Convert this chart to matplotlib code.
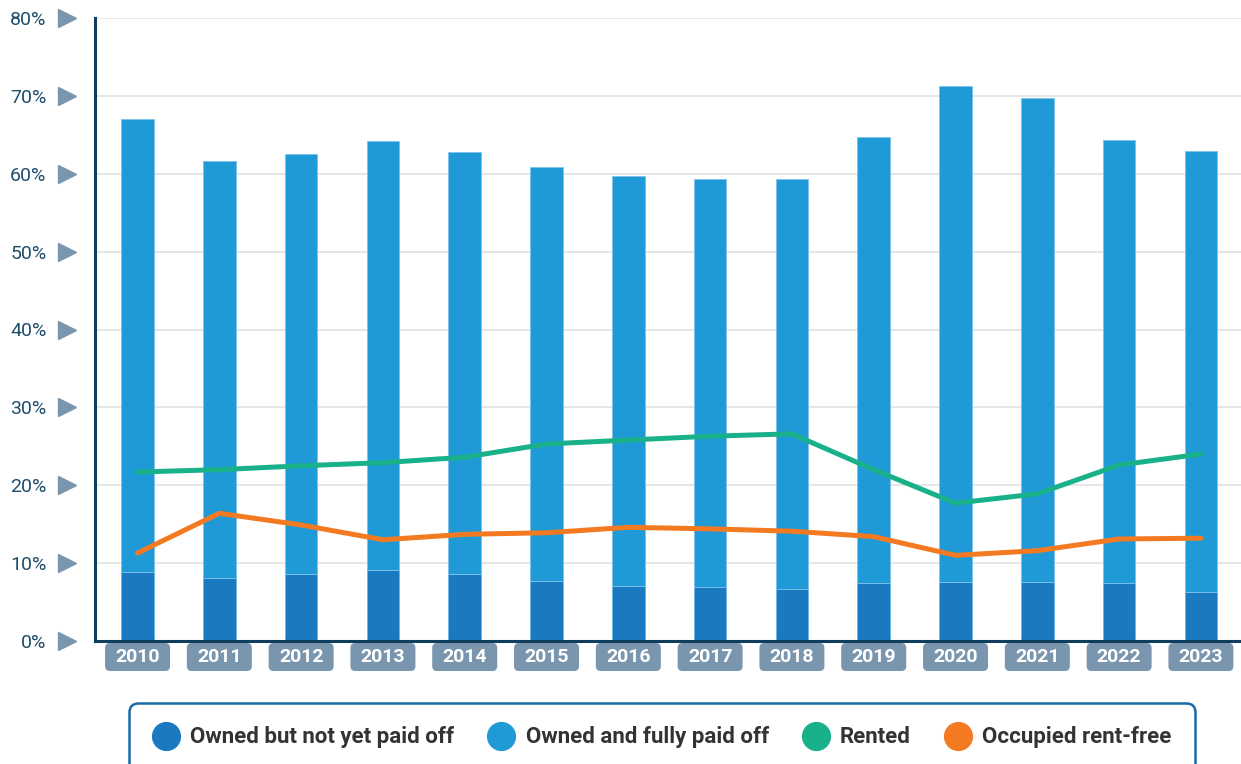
import matplotlib
matplotlib.use('Agg')
import matplotlib.pyplot as plt
import matplotlib.transforms as mtransforms
from matplotlib.patches import FancyBboxPatch
from matplotlib.lines import Line2D
import numpy as np

plt.rcParams['font.family'] = ['Roboto', 'DejaVu Sans']

years = ['2010', '2011', '2012', '2013', '2014', '2015', '2016',
         '2017', '2018', '2019', '2020', '2021', '2022', '2023']
owned_not_paid = [8.8, 8.1, 8.6, 9.1, 8.6, 7.7, 7.1, 6.9, 6.7, 7.4, 7.6, 7.6, 7.4, 6.3]
owned_paid = [58.2, 53.5, 53.9, 55.1, 54.2, 53.2, 52.6, 52.4, 52.6, 57.3, 63.7, 62.1, 56.9, 56.6]
rented = [21.7, 22.0, 22.5, 22.9, 23.6, 25.3, 25.8, 26.3, 26.6, 22.0, 17.7, 18.9, 22.6, 24.0]
rent_free = [11.3, 16.4, 14.9, 13.0, 13.7, 13.9, 14.6, 14.4, 14.1, 13.4, 11.0, 11.6, 13.1, 13.2]
y_ticks = [0, 10, 20, 30, 40, 50, 60, 70, 80]

c_dark = '#1a79c1'
c_light = '#1f9ad6'
c_green = '#19b18a'
c_orange = '#f47a22'
c_navy = '#0f3d5e'
c_box = '#7a96ae'

fig = plt.figure(figsize=(12.41, 7.64), dpi=100)
ax = fig.add_axes([95 / 1241, 123 / 764, 1146 / 1241, 623 / 764])

x = np.arange(len(years))
ax.bar(x, owned_not_paid, width=0.4, color=c_dark, edgecolor='#6fb6e6', linewidth=0.6, zorder=2)
ax.bar(x, owned_paid, width=0.4, bottom=owned_not_paid, color=c_light,
       edgecolor='#7cc3ea', linewidth=0.6, zorder=2)
ax.plot(x, rented, color=c_green, lw=3.6, solid_capstyle='round', zorder=3)
ax.plot(x, rent_free, color=c_orange, lw=3.6, solid_capstyle='round', zorder=3)

ax.set_xlim(-0.52, 13.49)
ax.set_ylim(0, 80)
ax.set_yticks(y_ticks)
ax.set_yticklabels([f'{v}%' for v in y_ticks], fontsize=14, color='#1f4e6b')
ax.tick_params(axis='y', length=0, pad=35)
ax.set_xticks([])
ax.grid(axis='y', color='#e2e2e2', lw=1.2, zorder=0)
ax.set_axisbelow(True)

for s in ['top', 'right']:
    ax.spines[s].set_visible(False)
for s in ['left', 'bottom']:
    ax.spines[s].set_color(c_navy)
    ax.spines[s].set_linewidth(2.2)
    ax.spines[s].set_zorder(4)

# triangle markers next to y tick labels
tr = mtransforms.blended_transform_factory(ax.transAxes, ax.transData)
ax.plot([-28 / 1146] * len(y_ticks), y_ticks, marker='>', ls='', ms=12.5,
        color=c_box, transform=tr, clip_on=False)

# year labels in rounded boxes
trx = mtransforms.blended_transform_factory(ax.transData, ax.transAxes)
unit_px = 1146 / (13.49 + 0.52)
bw = 65 / unit_px
bh = 28 / 623
for xi, yr in zip(x, years):
    box = FancyBboxPatch((xi - bw / 2, -30 / 623), bw, bh,
                         boxstyle='round,pad=0,rounding_size=0.06',
                         mutation_aspect=unit_px / 623,
                         transform=trx, clip_on=False, fc=c_box, ec='none')
    ax.add_patch(box)
    ax.text(xi, -16 / 623, yr, transform=trx, ha='center', va='center',
            color='white', fontsize=14, fontweight='bold')

handles = [Line2D([], [], marker='o', ls='', ms=20, color=c)
           for c in [c_dark, c_light, c_green, c_orange]]
labels = ['Owned but not yet paid off', 'Owned and fully paid off', 'Rented', 'Occupied rent-free']
leg = fig.legend(handles, labels, loc='upper center', ncol=4,
                 bbox_to_anchor=(662 / 1241, 61 / 764), borderaxespad=0,
                 prop={'size': 16, 'weight': 'bold'}, labelcolor='#333333',
                 handlelength=1.2, handletextpad=0.5, columnspacing=1.5,
                 borderpad=1.05, fancybox=True, framealpha=1)
fr = leg.get_frame()
fr.set_edgecolor('#1b6aa5')
fr.set_linewidth(1.8)
fr.set_boxstyle('round,pad=0,rounding_size=0.4')

fig.savefig('out.png', dpi=100)
